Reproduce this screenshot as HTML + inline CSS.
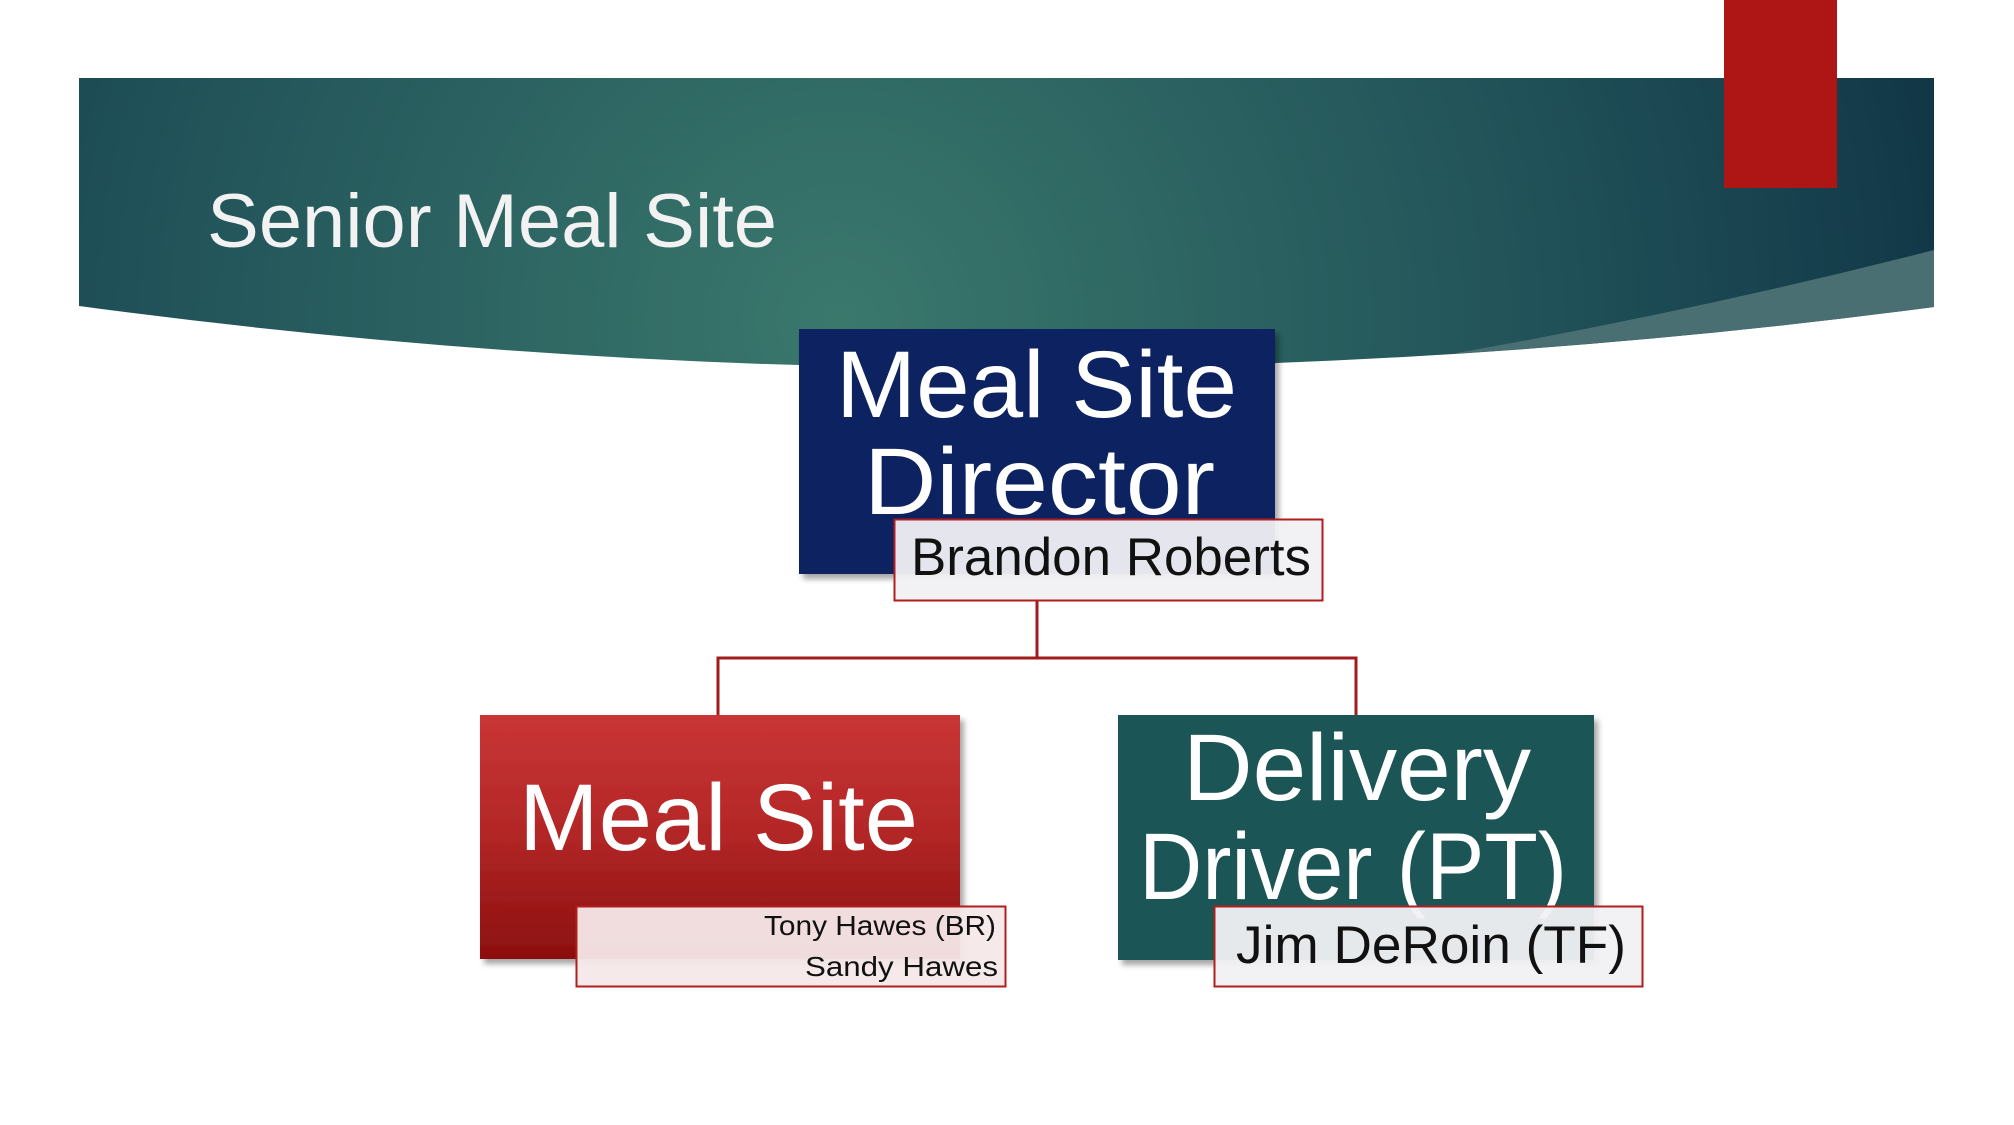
<!DOCTYPE html>
<html><head><meta charset="utf-8"><style>
html,body{margin:0;padding:0;background:#fff;}
svg{display:block;}
text{font-family:"Liberation Sans",sans-serif;}
</style></head><body>
<svg width="2014" height="1125" viewBox="0 0 2014 1125" xmlns="http://www.w3.org/2000/svg">
<defs>
<radialGradient id="hg" cx="840" cy="320" r="1100" gradientUnits="userSpaceOnUse">
<stop offset="0" stop-color="#3a786c"/>
<stop offset="0.6" stop-color="#22545a"/>
<stop offset="1" stop-color="#123848"/>
</radialGradient>
<linearGradient id="rg" x1="0" y1="0" x2="0" y2="1">
<stop offset="0" stop-color="#c93535"/>
<stop offset="0.45" stop-color="#b52828"/>
<stop offset="1" stop-color="#8c0f0f"/>
</linearGradient>
<filter id="sh" x="-10%" y="-10%" width="130%" height="130%">
<feDropShadow dx="4" dy="5" stdDeviation="3" flood-color="#000" flood-opacity="0.35"/>
</filter>
</defs>
<path d="M79 78 H1934 V307 Q1000 430 79 306 Z" fill="url(#hg)"/>
<path d="M1451 354 Q1700 310 1934 250 V307 Q1700 338 1451 354 Z" fill="#4a6f73"/>
<rect x="1724" y="0" width="113" height="188" fill="#ae1515"/>
<text x="207" y="247" font-size="76" fill="#f2f2f2" textLength="570" lengthAdjust="spacingAndGlyphs">Senior Meal Site</text>

<path d="M1037 601 V658 M718 715 V658 H1356 V715" stroke="#a01c1c" stroke-width="3" fill="none"/>

<rect x="799" y="329" width="476" height="245" fill="#0c2260" filter="url(#sh)"/>
<text x="836" y="417" font-size="95" fill="#fff" textLength="401" lengthAdjust="spacingAndGlyphs">Meal Site</text>
<text x="864" y="514" font-size="95" fill="#fff" textLength="351" lengthAdjust="spacingAndGlyphs">Director</text>
<rect x="894.5" y="519.5" width="428" height="81" fill="#f1f1f4" fill-opacity="0.95" stroke="#b01e1e" stroke-width="2"/>
<text x="911" y="575" font-size="53" fill="#111" textLength="400" lengthAdjust="spacingAndGlyphs">Brandon Roberts</text>

<rect x="480" y="715" width="480" height="244" fill="url(#rg)" filter="url(#sh)"/>
<text x="519" y="850" font-size="95" fill="#fff" textLength="399" lengthAdjust="spacingAndGlyphs">Meal Site</text>
<rect x="576.5" y="906.5" width="429" height="80" fill="#f5e8e8" fill-opacity="0.95" stroke="#b01e1e" stroke-width="2"/>
<text x="764" y="935" font-size="28" fill="#111" textLength="232" lengthAdjust="spacingAndGlyphs">Tony Hawes (BR)</text>
<text x="805" y="976" font-size="28" fill="#111" textLength="193" lengthAdjust="spacingAndGlyphs">Sandy Hawes</text>

<rect x="1118" y="715" width="476" height="245" fill="#1f5456" filter="url(#sh)"/>
<text x="1183" y="800" font-size="95" fill="#fff" textLength="348" lengthAdjust="spacingAndGlyphs">Delivery</text>
<text x="1139" y="899" font-size="95" fill="#fff" textLength="428" lengthAdjust="spacingAndGlyphs">Driver (PT)</text>
<rect x="1214.5" y="906.5" width="428" height="80" fill="#f1f1f3" fill-opacity="0.95" stroke="#b01e1e" stroke-width="2"/>
<text x="1236" y="963" font-size="53" fill="#111" textLength="390" lengthAdjust="spacingAndGlyphs">Jim DeRoin (TF)</text>
</svg>
</body></html>
